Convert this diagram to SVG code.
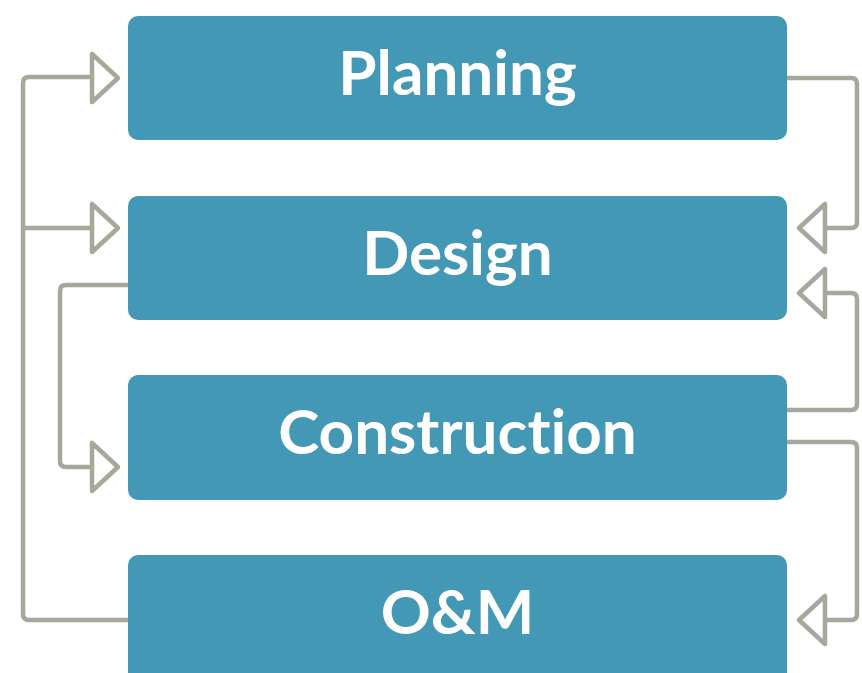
<svg xmlns="http://www.w3.org/2000/svg" width="862" height="673" viewBox="0 0 862 673">
<style>
.box{fill:#4398b6}
.lbl{fill:#ffffff;font-family:Lato,"Open Sans","Liberation Sans",sans-serif;font-weight:700;font-size:62px;text-anchor:middle;font-variant-ligatures:none;font-feature-settings:"liga" 0}
.ln{fill:none;stroke:#a7a89c;stroke-width:4.5;stroke-linejoin:round;stroke-linecap:butt}
.ah{fill:#ffffff;stroke:#a7a89c;stroke-width:4.5;stroke-linejoin:round}
</style>
<rect width="862" height="673" fill="#ffffff"/>
<g id="connectors">
<path class="ln" d="M128,620 H29 Q23,620 23,614 V83 Q23,77 29,77 H92"/>
<path class="ln" d="M23,228 H92"/>
<path class="ln" d="M128,285 H66 Q60,285 60,291 V461 Q60,467 66,467 H92"/>
<path class="ln" d="M787,78 H851 Q857,78 857,84 V222 Q857,228 851,228 H825"/>
<path class="ln" d="M787,410 H851 Q857,410 857,404 V299 Q857,293 851,293 H825"/>
<path class="ln" d="M787,442 H851 Q857,442 857,448 V614 Q857,620 851,620 H825"/>
<polygon class="ah" points="92,54 92,102 118,78"/>
<polygon class="ah" points="92,204 92,252 118,228"/>
<polygon class="ah" points="92,443 92,491 118,467"/>
<polygon class="ah" points="825,204 825,252 799,228"/>
<polygon class="ah" points="825,269 825,317 799,293"/>
<polygon class="ah" points="825,596 825,644 799,620"/>
</g>
<g id="planning"><rect class="box" x="128" y="16" width="659" height="124" rx="10"/><text class="lbl" x="457.5" y="95">Planning</text></g>
<g id="design"><rect class="box" x="128" y="196" width="659" height="124" rx="10"/><text class="lbl" x="457.5" y="275">Design</text></g>
<g id="construction"><rect class="box" x="128" y="375" width="659" height="125" rx="10"/><text class="lbl" x="457.5" y="454">Construction</text></g>
<g id="om"><rect class="box" x="128" y="555" width="659" height="130" rx="10"/><text class="lbl" x="457.5" y="634">O&amp;M</text></g>
</svg>
